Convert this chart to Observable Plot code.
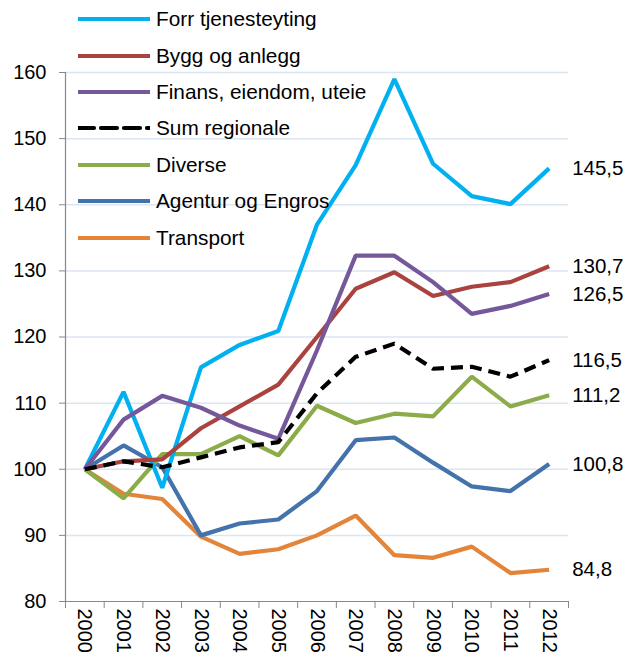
<!DOCTYPE html>
<html>
<head>
<meta charset="utf-8">
<script src="https://cdn.jsdelivr.net/npm/d3@7"></script>
<script src="https://cdn.jsdelivr.net/npm/@observablehq/plot@0.6"></script>
<style>
  html, body { margin: 0; padding: 0; background: #fff; }
  #wrap { position: relative; width: 639px; height: 662px; font-family: "Liberation Sans", Arial, sans-serif; }
  #legend { position: absolute; left: 78px; top: 1px; }
  .row { display: flex; align-items: center; height: 36.4px; font-size: 20.8px; color: #000; }
  .row svg { margin-right: 6px; }
</style>
</head>
<body>
<div id="wrap"><div id="legend"></div></div>
<script>
const years = [2000, 2001, 2002, 2003, 2004, 2005, 2006, 2007, 2008, 2009, 2010, 2011, 2012];
const seriesNames = ["Forr tjenesteyting", "Bygg og anlegg", "Finans, eiendom, uteie", "Sum regionale", "Diverse", "Agentur og Engros", "Transport"];
const seriesColors = ["#00b0f0", "#aa4340", "#74589a", "#000000", "#8bac48", "#4472aa", "#e2843a"];
const forrTjenesteyting = [100, 111.7, 97.2, 115.4, 118.8, 120.9, 137.0, 146.0, 159.0, 146.2, 141.3, 140.1, 145.5];
const byggOgAnlegg = [100, 101.2, 101.5, 106.2, 109.5, 112.8, 120.0, 127.3, 129.8, 126.2, 127.6, 128.3, 130.7];
const finansEiendom = [100, 107.5, 111.1, 109.3, 106.6, 104.6, 118.0, 132.3, 132.3, 128.3, 123.5, 124.7, 126.5];
const sumRegionale = [100, 101.2, 100.3, 101.8, 103.3, 104.1, 111.5, 117.0, 119.0, 115.2, 115.5, 114.0, 116.5];
const diverse = [100, 95.6, 102.3, 102.3, 105.0, 102.1, 109.6, 107.0, 108.4, 108.0, 114.0, 109.5, 111.2];
const agenturEngros = [100, 103.6, 100.3, 90.0, 91.8, 92.4, 96.7, 104.4, 104.8, 101.0, 97.4, 96.7, 100.8];
const transport = [100, 96.3, 95.5, 89.8, 87.2, 87.9, 90.0, 93.0, 87.0, 86.6, 88.3, 84.3, 84.8];
const yTicks = [80, 90, 100, 110, 120, 130, 140, 150, 160];
const endLabels = ["145,5", "130,7", "126,5", "116,5", "111,2", "100,8", "84,8"];

const allSeries = [forrTjenesteyting, byggOgAnlegg, finansEiendom, sumRegionale, diverse, agenturEngros, transport];
const boundaries = years.map(y => y - 0.5).concat([years[years.length - 1] + 0.5]);
const drawOrder = [6, 5, 4, 0, 1, 2, 3];

const lineMarks = drawOrder.map(k => Plot.line(allSeries[k], {
  x: (d, i) => years[i],
  y: d => d,
  stroke: seriesColors[k],
  strokeWidth: 4.2,
  strokeDasharray: k === 3 ? "12,7" : null,
  strokeLinejoin: "miter",
  strokeLinecap: "butt"
}));

const endData = allSeries.map((s, k) => ({v: s[s.length - 1], t: endLabels[k]}));

const chart = Plot.plot({
  width: 639,
  height: 662,
  marginLeft: 65,
  marginRight: 71,
  marginTop: 72,
  marginBottom: 61,
  style: {fontFamily: "Liberation Sans, Arial, sans-serif", fontSize: "20px", color: "#000", background: "transparent"},
  x: {domain: [years[0] - 0.5, years[years.length - 1] + 0.5]},
  y: {domain: [yTicks[0], yTicks[yTicks.length - 1]]},
  marks: [
    Plot.ruleY(yTicks.slice(1), {stroke: "#dce6f2", strokeWidth: 1.5}),
    Plot.axisY(yTicks, {tickSize: 6, tickPadding: 13, tickFormat: d => String(d), label: null, stroke: "#888", fontSize: 20}),
    Plot.axisX(boundaries, {tickSize: 7, tickFormat: () => "", label: null, stroke: "#888"}),
    Plot.axisX(years, {tickSize: 0, tickPadding: 7, tickRotate: 90, tickFormat: d => String(d), label: null, fontSize: 20}),
    Plot.ruleX([boundaries[0]], {stroke: "#888", strokeWidth: 1.2}),
    Plot.ruleY([yTicks[0]], {stroke: "#888", strokeWidth: 1.2}),
    ...lineMarks,
    Plot.text(endData, {x: years[years.length - 1], y: "v", text: "t", dx: 23, textAnchor: "start", fontSize: 20.5, fill: "#000"})
  ]
});
document.getElementById("wrap").appendChild(chart);
chart.style.position = "absolute";
chart.style.left = "0";
chart.style.top = "0";

const legend = document.getElementById("legend");
legend.style.zIndex = "2";
seriesNames.forEach((name, k) => {
  const row = document.createElement("div");
  row.className = "row";
  const dash = k === 3 ? 'stroke-dasharray="16,7"' : "";
  row.innerHTML = `<svg width="72" height="8"><line x1="0" y1="4" x2="72" y2="4" stroke="${seriesColors[k]}" stroke-width="4.2" stroke-linecap="round" ${dash}/></svg><span>${name}</span>`;
  legend.appendChild(row);
});
</script>
</body>
</html>
